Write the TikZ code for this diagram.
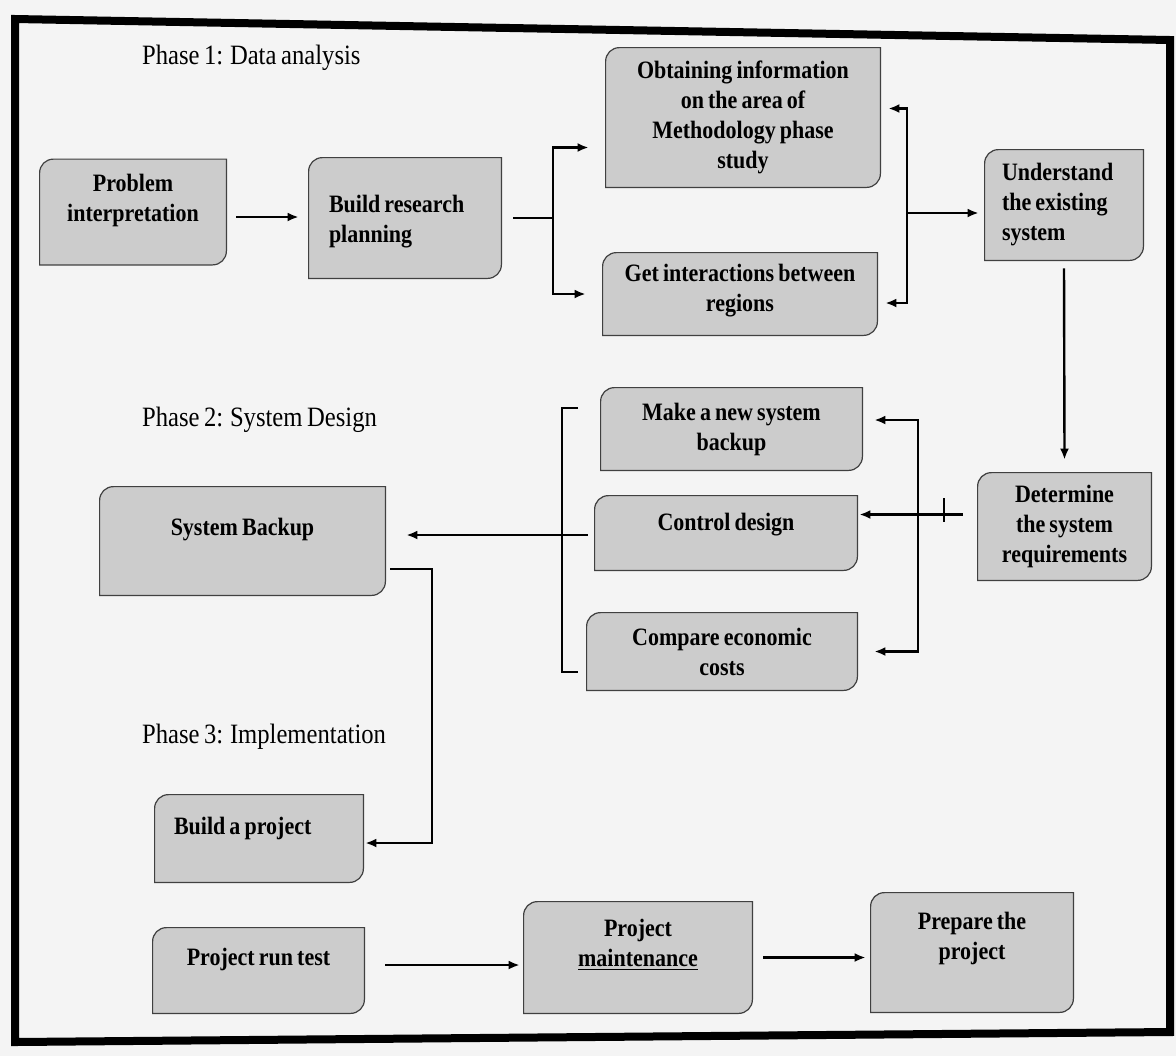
\documentclass[tikz,border=0pt]{standalone}
\usepackage{fontspec}
\setmainfont{Liberation Serif}[FakeStretch=0.88, WordSpace=0.75]
\definecolor{boxgrau}{HTML}{CCCCCC}
\definecolor{papier}{HTML}{F4F4F4}
\usetikzlibrary{arrows.meta, positioning, backgrounds}

\begin{document}
\begin{tikzpicture}[
    x=0.5pt, y=-0.5pt,
    box/.style={rectangle, inner sep=0pt, align=center,
                font=\bfseries\fontsize{12.5}{15}\selectfont},
    lbox/.style={box, align=flush left},
    phase/.style={anchor=west, font=\fontsize{14}{16}\selectfont},
    rand/.style={draw=black!75, fill=boxgrau, line width=0.6pt},
    line/.style={line width=1.2pt},
    arr/.style={line, -{Latex[length=5.5pt,width=4.5pt]}}
  ]
  \useasboundingbox (0,0) rectangle (1176,1056);

  % phase titles
  \node[phase] (ph1) at (135,58) {Phase 1: Data analysis};
  \node[phase] (ph2) at (135,420) {Phase 2: System Design};
  \node[phase] (ph3) at (135,737) {Phase 3: Implementation};

  % phase 1
  \node[box, minimum width=93pt, minimum height=52.5pt, text depth=14pt] (prob) at (133,212) {Problem\\interpretation};
  \node[lbox, text width=76pt, minimum width=96pt, minimum height=60pt, text depth=14pt] (plan) at (405,218) {Build research\\planning};
  \node[box, minimum width=137pt, minimum height=69.5pt] (obt) at (743,117.5) {Obtaining information\\on the area of\\Methodology phase\\study};
  \node[box, minimum width=137pt, minimum height=41pt, text depth=6pt] (inter) at (740,294) {Get interactions between\\regions};
  \node[lbox, text width=62pt, minimum width=79pt, minimum height=55pt] (und) at (1064,205) {Understand\\the existing\\system};

  % phase 2
  \node[box, minimum width=86.5pt, minimum height=53.5pt] (det) at (1064.5,526.5) {Determine\\the system\\requirements};
  \node[box, minimum width=130.5pt, minimum height=41pt] (make) at (731.5,429) {Make a new system\\backup};
  \node[box, minimum width=131pt, minimum height=37pt, text depth=11pt] (ctrl) at (726,533) {Control design};
  \node[box, minimum width=135pt, minimum height=38.5pt] (cmp) at (722,651.5) {Compare economic\\costs};
  \node[box, minimum width=142.5pt, minimum height=54pt, text depth=14pt] (sysb) at (242.5,541) {System Backup};

  % phase 3
  \node[lbox, text width=85pt, minimum width=104pt, minimum height=43.5pt, text depth=13pt] (bproj) at (259,838.5) {Build a project};
  \node[box, minimum width=105.5pt, minimum height=42.5pt, text depth=14pt] (run) at (258.5,970.5) {Project run test};
  \node[box, minimum width=114pt, minimum height=55.5pt, text depth=15pt] (maint) at (638,957.5) {Project\\\underline{maintenance}};
  \node[box, minimum width=101pt, minimum height=59.5pt, text depth=17pt] (prep) at (972,952.5) {Prepare the\\project};

  % box outlines, top left and bottom right corners rounded
  \begin{scope}[on background layer]
    \fill[papier] (0,0) rectangle (1176,1056);
    \foreach \n in {prob,plan,obt,inter,und,det,make,ctrl,cmp,sysb,bproj,run,maint,prep}
      \draw[rand] (\n.south west) -- ([yshift=-7pt]\n.north west)
        .. controls ([yshift=-3pt]\n.north west) and ([xshift=3pt]\n.north west) .. ([xshift=7pt]\n.north west)
        -- (\n.north east) -- ([yshift=7pt]\n.south east)
        .. controls ([yshift=3pt]\n.south east) and ([xshift=-3pt]\n.south east) .. ([xshift=-7pt]\n.south east) -- cycle;
  \end{scope}

  % junctions
  \coordinate (j1) at (553,218);
  \coordinate (j2) at (907,213);
  \coordinate (j3) at (918,533);
  \coordinate (j4) at (562,535);
  \coordinate (j5) at (432,569);
  \coordinate (tick) at (944,512);
  \coordinate (b4top) at (578,408);
  \coordinate (b4bot) at (578,672);

  \draw[arr] ([xshift=5pt,yshift=-2.5pt]prob.east) -- ([xshift=-5pt,yshift=-2.5pt]prob.east -| plan.west);
  \draw[line] ([xshift=6pt]plan.east) -- (j1);
  \draw[arr] (j1) |- ([xshift=-8.5pt,yshift=-15pt]obt.west);
  \draw[arr] (j1) |- ([xshift=-8.5pt]inter.west);
  \draw[arr] (j2) |- ([xshift=4pt,yshift=4.5pt]obt.east);
  \draw[arr] (j2) |- ([xshift=4pt,yshift=-4.5pt]inter.east);
  \draw[arr] (j2) -- ([xshift=-3pt]j2 -| und.west);
  \draw[arr] ([yshift=-4pt]und.south) -- ([yshift=6.5pt]det.north);

  \draw[arr] ([xshift=-7.5pt,yshift=6pt]det.west) -- ([xshift=1pt,yshift=6pt]det.west -| ctrl.east);
  \draw[line, line width=0.8pt] ([yshift=7pt]tick) -- ([yshift=-5pt]tick);
  \draw[arr] (j3) |- ([xshift=6pt,yshift=4.5pt]make.east);
  \draw[arr] (j3) |- ([xshift=8.5pt]cmp.east);

  \draw[line] (b4top) -- (b4top -| j4) -- (b4bot -| j4) -- (b4bot);
  \draw[line] (j4) -- ([xshift=-3.5pt]j4 -| ctrl.west);
  \draw[arr] (j4) -- ([xshift=10.5pt]j4 -| sysb.east);
  \draw[arr] ([xshift=2.5pt]j5 -| sysb.east) -- (j5) |- ([xshift=1pt,yshift=-2.25pt]bproj.east);

  \draw[arr] ([xshift=10.5pt,yshift=2.75pt]run.east) -- ([xshift=-2pt,yshift=2.75pt]run.east -| maint.west);
  \draw[arr] ([xshift=5.5pt]maint.east) -- ([xshift=-2.5pt]maint.east -| prep.west);

  % frame
  \draw[line width=4pt, line join=miter] (15,19) -- (1170,40) -- (1170,1032) -- (15,1042) -- cycle;
\end{tikzpicture}
\end{document}
